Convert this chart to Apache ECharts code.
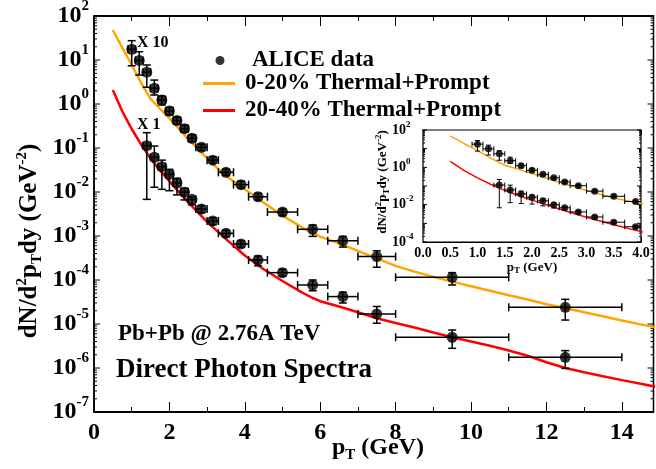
<!DOCTYPE html>
<html>
<head>
<meta charset="utf-8">
<script src="https://cdn.jsdelivr.net/npm/echarts@6/dist/echarts.min.js"></script>
<style>
  html, body { margin: 0; padding: 0; background: #fff; }
  #main { width: 656px; height: 469px; }
</style>
</head>
<body>
<div id="main"></div>
<script>
// ALICE direct photons, 0-20% (shown x10)
var ptUp = [1.0, 1.2, 1.4, 1.6, 1.8, 2.0, 2.2, 2.4, 2.6, 2.85, 3.15, 3.5, 3.9, 4.35, 5.0, 5.8, 6.6, 7.5, 9.5, 12.5];
var yUp = [17.5, 9.8, 5.3, 2.27, 1.23, 0.69, 0.42, 0.275, 0.166, 0.104, 0.053, 0.028, 0.0147, 0.0078, 0.0035, 0.00142, 0.00078, 0.00034, 0.000115, 0.000024];
var yUpHi = [27.5, 15.4, 7.7, 3.5, 1.52, 0.84, 0.5, 0.33, 0.2, 0.122, 0.063, 0.033, 0.0175, 0.0093, 0.0041, 0.00178, 0.00098, 0.00046, 0.000147, 0.0000364];
var yUpLo = [7.4, 4.56, 2.4, 1.6, 0.95, 0.56, 0.35, 0.23, 0.14, 0.088, 0.045, 0.024, 0.0124, 0.0065, 0.0029, 0.00098, 0.00056, 0.000195, 0.000077, 0.0000123];
var binLoUp = [0.9, 1.1, 1.3, 1.5, 1.7, 1.9, 2.1, 2.3, 2.5, 2.7, 3.0, 3.3, 3.7, 4.1, 4.6, 5.4, 6.2, 7.0, 8.0, 11.0];
var binHiUp = [1.1, 1.3, 1.5, 1.7, 1.9, 2.1, 2.3, 2.5, 2.7, 3.0, 3.3, 3.7, 4.1, 4.6, 5.4, 6.2, 7.0, 8.0, 11.0, 14.0];

// ALICE direct photons, 20-40% (x1)
var ptLo = [1.4, 1.6, 1.8, 2.0, 2.2, 2.4, 2.6, 2.85, 3.15, 3.5, 3.9, 4.35, 5.0, 5.8, 6.6, 7.5, 9.5, 12.5];
var yLo = [0.113, 0.0615, 0.0376, 0.0252, 0.016, 0.0099, 0.0068, 0.0041, 0.0022, 0.00115, 0.00066, 0.000285, 0.000147, 0.000077, 0.000042, 0.0000169, 0.000005, 0.00000175];
var yLoHi = [0.223, 0.111, 0.053, 0.0327, 0.0205, 0.0122, 0.0078, 0.0049, 0.0026, 0.00135, 0.00078, 0.00035, 0.000175, 0.0001, 0.000053, 0.000025, 0.0000073, 0.00000248];
var yLoLo = [0.0068, 0.0128, 0.0115, 0.0107, 0.0086, 0.0066, 0.0051, 0.0034, 0.0018, 0.00097, 0.00055, 0.00021, 0.000122, 0.000057, 0.00003, 0.0000104, 0.0000028, 0.00000098];
var binLoLo = [1.3, 1.5, 1.7, 1.9, 2.1, 2.3, 2.5, 2.7, 3.0, 3.3, 3.7, 4.1, 4.6, 5.4, 6.2, 7.0, 8.0, 11.0];
var binHiLo = [1.5, 1.7, 1.9, 2.1, 2.3, 2.5, 2.7, 3.0, 3.3, 3.7, 4.1, 4.6, 5.4, 6.2, 7.0, 8.0, 11.0, 14.0];

// Thermal+Prompt calculations
var curveX = [0.5, 0.75, 1.0, 1.25, 1.5, 1.75, 2.0, 2.5, 3.0, 3.5, 4.0, 4.5, 5.0, 5.5, 5.8, 6.0, 6.5, 7.0, 7.5, 8.0, 8.5, 9.0, 9.5, 10.0, 10.5, 11.0, 11.5, 12.0, 12.5, 13.0, 13.5, 14.0, 14.5, 15.0];
var curve0020 = [48, 19, 7.8, 3.0, 1.3, 0.78, 0.47, 0.16, 0.058, 0.023, 0.0115, 0.0057, 0.0029, 0.0016, 0.00118, 0.00097, 0.00068, 0.00046, 0.00031, 0.00021, 0.000155, 0.000118, 0.000092, 0.000072, 0.000057, 0.000045, 0.000036, 0.000028, 0.000023, 0.0000185, 0.000015, 0.000012, 0.0000098, 0.000008];
var curve2040 = [2.08, 0.68, 0.27, 0.12, 0.058, 0.031, 0.0175, 0.0058, 0.0021, 0.00085, 0.00036, 0.000175, 0.000095, 0.000053, 0.000039, 0.000033, 0.000025, 0.0000185, 0.0000135, 0.0000105, 0.0000083, 0.0000064, 0.000005, 0.000004, 0.0000032, 0.0000025, 0.0000019, 0.00000135, 0.000001, 0.0000008, 0.00000065, 0.00000053, 0.00000044, 0.00000036];

var seriesNames = ['ALICE data', '0-20% Thermal+Prompt', '20-40% Thermal+Prompt'];

var FONT = 'Liberation Serif';
var ORANGE = '#ffa500', RED = '#ff0000';
var X_MAX = 14.84;

function pairs(xs, ys) { return xs.map(function (x, i) { return [x, ys[i]]; }); }
function errRows(xs, ys, lo, hi, bl, bh) {
  return xs.map(function (x, i) { return [x, ys[i], lo[i], hi[i], bl[i], bh[i]]; });
}

// log ticks: decades (long) and 2..9 per decade (short), for both side frames
function logTicks(e0, e1, majLen, minLen) {
  var out = [];
  for (var e = e0; e <= e1; e++) {
    out.push([0, Math.pow(10, e), majLen]);
    if (e < e1) for (var k = 2; k <= 9; k++) out.push([0, k * Math.pow(10, e), minLen]);
  }
  return out;
}

function errRender(cap, lw) {
  return function (params, api) {
    var x = api.value(0), y = api.value(1);
    var lo = api.coord([x, api.value(2)]), hi = api.coord([x, api.value(3)]);
    var l = api.coord([api.value(4), y]), r = api.coord([api.value(5), y]);
    var st = { stroke: '#000', lineWidth: lw };
    return {
      type: 'group',
      children: [
        { type: 'line', shape: { x1: lo[0], y1: lo[1], x2: hi[0], y2: hi[1] }, style: st },
        { type: 'line', shape: { x1: lo[0] - cap, y1: lo[1], x2: lo[0] + cap, y2: lo[1] }, style: st },
        { type: 'line', shape: { x1: hi[0] - cap, y1: hi[1], x2: hi[0] + cap, y2: hi[1] }, style: st },
        { type: 'line', shape: { x1: l[0], y1: l[1], x2: r[0], y2: r[1] }, style: st },
        { type: 'line', shape: { x1: l[0], y1: l[1] - cap, x2: l[0], y2: l[1] + cap }, style: st },
        { type: 'line', shape: { x1: r[0], y1: r[1] - cap, x2: r[0], y2: r[1] + cap }, style: st }
      ]
    };
  };
}

function tickRender(params, api) {
  var p = api.coord([0, api.value(1)]);
  var len = api.value(2);
  var xr = params.coordSys.x + params.coordSys.width;
  var st = { stroke: '#000', lineWidth: 1 };
  return {
    type: 'group',
    children: [
      { type: 'line', shape: { x1: p[0], y1: p[1], x2: p[0] + len, y2: p[1] }, style: st },
      { type: 'line', shape: { x1: xr - len, y1: p[1], x2: xr, y2: p[1] }, style: st }
    ]
  };
}

function powLabel(v) {
  var e = Math.round(Math.log10(v));
  return '{b|10}{s|' + e + '}';
}

var axisLine = { show: true, onZero: false, lineStyle: { color: '#000', width: 1.5 } };
var insetLine = { show: true, onZero: false, lineStyle: { color: '#000', width: 1.2 } };
var noSplit = { show: false };

function tickAxis(pos, interval, len) {
  return {
    gridIndex: 0, type: 'value', min: 0, max: X_MAX, interval: interval, position: pos,
    axisLine: axisLine, splitLine: noSplit, axisLabel: { show: false },
    axisTick: { inside: true, length: len, lineStyle: { color: '#000', width: 1 } }
  };
}

var chart = echarts.init(document.getElementById('main'));
chart.setOption({
  animation: false,
  backgroundColor: '#fff',
  textStyle: { fontFamily: FONT },
  grid: [
    {
      left: 94, top: 16, right: 2.5, bottom: 57, outerBoundsMode: 'none', containLabel: false,
      show: true, backgroundColor: 'transparent', borderColor: '#000', borderWidth: 1.5
    },
    {
      left: 423, top: 130, width: 218, height: 112, outerBoundsMode: 'none', containLabel: false,
      show: true, backgroundColor: '#fff', borderColor: '#000', borderWidth: 1.2, z: 5
    }
  ],
  legend: [
    {
      data: [{ name: seriesNames[0], icon: 'circle' }], left: 215.5, top: 49, padding: 0,
      itemWidth: 32, itemHeight: 9, selectedMode: false,
      textStyle: { fontFamily: FONT, fontSize: 23, fontWeight: 'bold', color: '#000', padding: [0, 0, 0, 11] }
    },
    {
      data: [seriesNames[1]], icon: 'rect', left: 203, top: 72, padding: 0,
      itemWidth: 32, itemHeight: 3, selectedMode: false,
      textStyle: { fontFamily: FONT, fontSize: 23, fontWeight: 'bold', color: '#000', padding: [0, 0, 0, 5] }
    },
    {
      data: [seriesNames[2]], icon: 'rect', left: 203, top: 99, padding: 0,
      itemWidth: 32, itemHeight: 3, selectedMode: false,
      textStyle: { fontFamily: FONT, fontSize: 23, fontWeight: 'bold', color: '#000', padding: [0, 0, 0, 5] }
    }
  ],
  xAxis: [
    {
      gridIndex: 0, type: 'value', min: 0, max: X_MAX, interval: 2, position: 'bottom',
      axisLine: axisLine, splitLine: noSplit,
      axisTick: { inside: true, length: 10, lineStyle: { color: '#000', width: 1 } },
      axisLabel: {
        color: '#000', fontSize: 24, fontWeight: 'bold', fontFamily: FONT, margin: 9, interval: 0,
        formatter: function (v) { return v % 2 === 0 ? String(v) : ''; }
      }
    },
    tickAxis('top', 2, 10),
    tickAxis('bottom', 1, 5),
    tickAxis('top', 1, 5),
    {
      gridIndex: 1, type: 'value', min: 0, max: 4, interval: 0.5, position: 'bottom',
      axisLine: insetLine, splitLine: noSplit,
      axisTick: { inside: true, length: 5, lineStyle: { color: '#000', width: 1 } },
      minorTick: { show: true, splitNumber: 2, length: 3, lineStyle: { color: '#000', width: 1 } },
      axisLabel: {
        color: '#000', fontSize: 14, fontWeight: 'bold', fontFamily: FONT, margin: 4,
        formatter: function (v) { return v.toFixed(1); }
      },
      name: '{n|p}{sb|T}{n| (GeV)}', nameLocation: 'middle', nameGap: 17,
      nameTextStyle: {
        rich: {
          n: { fontSize: 13, fontWeight: 'bold', fontFamily: FONT, color: '#000' },
          sb: { fontSize: 9, fontWeight: 'bold', fontFamily: FONT, color: '#000', padding: [7, 0, 0, 0] }
        }
      }
    },
    {
      gridIndex: 1, type: 'value', min: 0, max: 4, interval: 0.5, position: 'top',
      axisLine: insetLine, splitLine: noSplit,
      axisLabel: { show: false },
      axisTick: { inside: true, length: 5, lineStyle: { color: '#000', width: 1 } },
      minorTick: { show: true, splitNumber: 2, length: 3, lineStyle: { color: '#000', width: 1 } }
    }
  ],
  yAxis: [
    {
      gridIndex: 0, type: 'log', logBase: 10, min: 1e-7, max: 1e2, position: 'left',
      axisLine: axisLine, splitLine: noSplit, axisTick: { show: false },
      axisLabel: {
        color: '#000', margin: 5, formatter: powLabel,
        rich: {
          b: { fontSize: 24, fontWeight: 'bold', fontFamily: FONT, color: '#000' },
          s: { fontSize: 15, fontWeight: 'bold', fontFamily: FONT, color: '#000', padding: [0, 0, 20, 0] }
        }
      }
    },
    {
      gridIndex: 1, type: 'log', logBase: 10, min: 1e-4, max: 1e2, position: 'left',
      axisLine: insetLine, splitLine: noSplit, axisTick: { show: false },
      axisLabel: {
        color: '#000', align: 'left', margin: 31,
        formatter: function (v) {
          var e = Math.round(Math.log10(v));
          return e % 2 === 0 ? powLabel(v) : '';
        },
        rich: {
          b: { fontSize: 14, fontWeight: 'bold', fontFamily: FONT, color: '#000' },
          s: { fontSize: 9, fontWeight: 'bold', fontFamily: FONT, color: '#000', padding: [0, 0, 11, 0] }
        }
      }
    }
  ],
  series: [
    // main panel
    {
      name: 'yticks', type: 'custom', xAxisIndex: 0, yAxisIndex: 0, silent: true, z: 1,
      data: logTicks(-7, 2, 6, 3), renderItem: tickRender
    },
    {
      name: seriesNames[1], type: 'line', xAxisIndex: 0, yAxisIndex: 0, data: pairs(curveX, curve0020),
      symbol: 'none', color: ORANGE, lineStyle: { width: 2.5, color: ORANGE }, z: 2, clip: true
    },
    {
      name: seriesNames[2], type: 'line', xAxisIndex: 0, yAxisIndex: 0, data: pairs(curveX, curve2040),
      symbol: 'none', color: RED, lineStyle: { width: 2.5, color: RED }, z: 2, clip: true
    },
    {
      name: 'err', type: 'custom', xAxisIndex: 0, yAxisIndex: 0, z: 3, silent: true,
      data: errRows(ptUp, yUp, yUpLo, yUpHi, binLoUp, binHiUp), renderItem: errRender(4, 1.5)
    },
    {
      name: 'err', type: 'custom', xAxisIndex: 0, yAxisIndex: 0, z: 3, silent: true,
      data: errRows(ptLo, yLo, yLoLo, yLoHi, binLoLo, binHiLo), renderItem: errRender(4, 1.5)
    },
    {
      name: seriesNames[0], type: 'scatter', xAxisIndex: 0, yAxisIndex: 0, data: pairs(ptUp, yUp),
      symbol: 'circle', symbolSize: 11, itemStyle: { color: '#000' }, z: 4
    },
    {
      name: seriesNames[0], type: 'scatter', xAxisIndex: 0, yAxisIndex: 0, data: pairs(ptLo, yLo),
      symbol: 'circle', symbolSize: 11, itemStyle: { color: '#000' }, z: 4
    },
    // inset
    {
      name: 'yticks2', type: 'custom', xAxisIndex: 4, yAxisIndex: 1, silent: true, z: 6,
      data: logTicks(-4, 2, 4, 2), renderItem: tickRender
    },
    {
      name: seriesNames[1], type: 'line', xAxisIndex: 4, yAxisIndex: 1, data: pairs(curveX, curve0020),
      symbol: 'none', color: ORANGE, lineStyle: { width: 1.5, color: ORANGE }, z: 6, clip: true
    },
    {
      name: seriesNames[2], type: 'line', xAxisIndex: 4, yAxisIndex: 1, data: pairs(curveX, curve2040),
      symbol: 'none', color: RED, lineStyle: { width: 1.5, color: RED }, z: 6, clip: true
    },
    {
      name: 'err2', type: 'custom', xAxisIndex: 4, yAxisIndex: 1, z: 7, silent: true, clip: true,
      data: errRows(ptUp, yUp, yUpLo, yUpHi, binLoUp, binHiUp), renderItem: errRender(2.5, 1)
    },
    {
      name: 'err2', type: 'custom', xAxisIndex: 4, yAxisIndex: 1, z: 7, silent: true, clip: true,
      data: errRows(ptLo, yLo, yLoLo, yLoHi, binLoLo, binHiLo), renderItem: errRender(2.5, 1)
    },
    {
      name: seriesNames[0], type: 'scatter', xAxisIndex: 4, yAxisIndex: 1, data: pairs(ptUp, yUp),
      symbol: 'circle', symbolSize: 7, itemStyle: { color: '#000' }, z: 8, clip: true
    },
    {
      name: seriesNames[0], type: 'scatter', xAxisIndex: 4, yAxisIndex: 1, data: pairs(ptLo, yLo),
      symbol: 'circle', symbolSize: 7, itemStyle: { color: '#000' }, z: 8, clip: true
    }
  ],
  graphic: [
    {
      type: 'text', x: 30, y: 241, rotation: Math.PI / 2, z: 10,
      style: {
        text: '{n|dN/d}{sp|2}{n|p}{sb|T}{n|dy (GeV}{sp|-2}{n|)}',
        align: 'center', verticalAlign: 'middle',
        rich: {
          n: { fontSize: 25, fontWeight: 'bold', fontFamily: FONT, fill: '#000' },
          sp: { fontSize: 15, fontWeight: 'bold', fontFamily: FONT, fill: '#000', padding: [0, 0, 16, 0] },
          sb: { fontSize: 15, fontWeight: 'bold', fontFamily: FONT, fill: '#000', padding: [14, 0, 0, 0] }
        }
      }
    },
    {
      type: 'text', x: 378, y: 448, z: 10,
      style: {
        text: '{n|p}{sb|T}{n| (GeV)}',
        align: 'center', verticalAlign: 'middle',
        rich: {
          n: { fontSize: 24, fontWeight: 'bold', fontFamily: FONT, fill: '#000' },
          sb: { fontSize: 15, fontWeight: 'bold', fontFamily: FONT, fill: '#000', padding: [14, 0, 0, 0] }
        }
      }
    },
    {
      type: 'text', x: 383, y: 182, rotation: Math.PI / 2, z: 10,
      style: {
        text: '{n|dN/d}{sp|2}{n|p}{sb|T}{n|dy (GeV}{sp|-2}{n|)}',
        align: 'center', verticalAlign: 'middle',
        rich: {
          n: { fontSize: 13, fontWeight: 'bold', fontFamily: FONT, fill: '#000' },
          sp: { fontSize: 9, fontWeight: 'bold', fontFamily: FONT, fill: '#000', padding: [0, 0, 9, 0] },
          sb: { fontSize: 9, fontWeight: 'bold', fontFamily: FONT, fill: '#000', padding: [7, 0, 0, 0] }
        }
      }
    },
    {
      type: 'text', x: 137, y: 43, z: 10,
      style: { text: 'X 10', fontSize: 16, fontWeight: 'bold', fontFamily: FONT, fill: '#000', verticalAlign: 'middle' }
    },
    {
      type: 'text', x: 137, y: 125, z: 10,
      style: { text: 'X 1', fontSize: 16, fontWeight: 'bold', fontFamily: FONT, fill: '#000', verticalAlign: 'middle' }
    },
    {
      type: 'text', x: 118, y: 334, z: 10,
      style: { text: 'Pb+Pb @ 2.76A TeV', fontSize: 23, fontWeight: 'bold', fontFamily: FONT, fill: '#000', verticalAlign: 'middle' }
    },
    {
      type: 'text', x: 116, y: 370, z: 10,
      style: { text: 'Direct Photon Spectra', fontSize: 27, fontWeight: 'bold', fontFamily: FONT, fill: '#000', verticalAlign: 'middle' }
    }
  ]
});
</script>
</body>
</html>
